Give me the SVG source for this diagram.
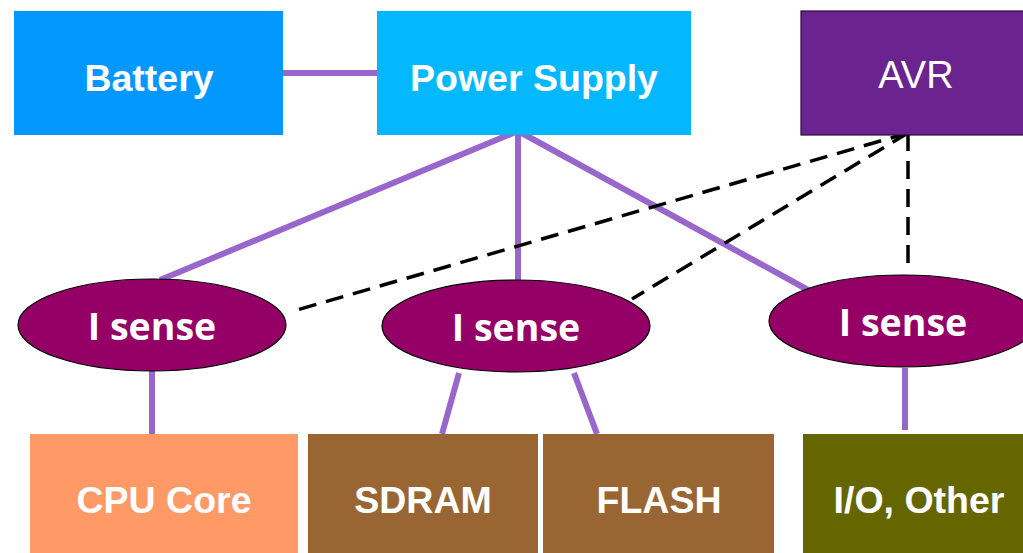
<svg xmlns="http://www.w3.org/2000/svg" width="1023" height="553" viewBox="0 0 1023 553">
<style>
.lbl{font-family:"Liberation Sans",Arial,sans-serif;font-weight:bold;font-size:37.5px;fill:#fff;text-anchor:middle}
.isn{font-family:"Open Sans","DejaVu Sans",sans-serif;font-weight:bold;font-size:37.5px;fill:#fff;text-anchor:middle}
.ell{fill:#940066;stroke:#000;stroke-width:1.2}
.sol{stroke:#9966CC;stroke-width:6;fill:none}
.dsh{stroke:#000;stroke-width:3.5;stroke-dasharray:18 10;fill:none}
</style>
<rect width="1023" height="553" fill="#fff"/>
<g id="connectors">
<line class="sol" x1="283" y1="73" x2="377" y2="73"/>
<line class="sol" x1="518" y1="131" x2="160" y2="280"/>
<line class="sol" x1="518" y1="131" x2="518" y2="280"/>
<line class="sol" x1="518" y1="131" x2="810" y2="291"/>
<line class="sol" x1="152" y1="371" x2="152" y2="434"/>
<line class="sol" x1="459" y1="373" x2="442" y2="434"/>
<line class="sol" x1="574" y1="373" x2="597" y2="434"/>
<line class="sol" x1="905" y1="368" x2="905" y2="430"/>
<line class="dsh" x1="908" y1="133" x2="297" y2="310"/>
<line class="dsh" x1="908" y1="133" x2="632" y2="299"/>
<line class="dsh" x1="908" y1="133" x2="908" y2="270"/>
</g>
<g id="battery"><rect x="14" y="11" width="269" height="124" fill="#0398FF"/><text class="lbl" x="149" y="91">Battery</text></g>
<g id="power"><rect x="377" y="11" width="314" height="124" fill="#03B8FF"/><text class="lbl" x="534" y="91">Power Supply</text></g>
<g id="avr"><rect x="801" y="11" width="230" height="124" fill="#6A238F" stroke="#2a0a3a" stroke-width="1.2"/><text x="916" y="88" font-family="'Liberation Sans',Arial,sans-serif" font-size="38" fill="#fff" text-anchor="middle">AVR</text></g>
<g id="isense1"><ellipse class="ell" cx="152" cy="325" rx="134" ry="46"/><text class="isn" x="152" y="340">I sense</text></g>
<g id="isense2"><ellipse class="ell" cx="516" cy="326" rx="134" ry="46"/><text class="isn" x="516" y="341">I sense</text></g>
<g id="isense3"><ellipse class="ell" cx="903" cy="321" rx="134" ry="46"/><text class="isn" x="903" y="336">I sense</text></g>
<g id="cpu"><rect x="30" y="434" width="268" height="125" fill="#FF9966"/><text class="lbl" x="164" y="513">CPU Core</text></g>
<g id="sdram"><rect x="308" y="434" width="230" height="125" fill="#996633"/><text class="lbl" x="423" y="513">SDRAM</text></g>
<g id="flash"><rect x="543" y="434" width="231" height="125" fill="#996633"/><text class="lbl" x="659" y="513">FLASH</text></g>
<g id="io"><rect x="803" y="434" width="230" height="125" fill="#666600"/><text class="lbl" x="919" y="513">I/O, Other</text></g>
</svg>
